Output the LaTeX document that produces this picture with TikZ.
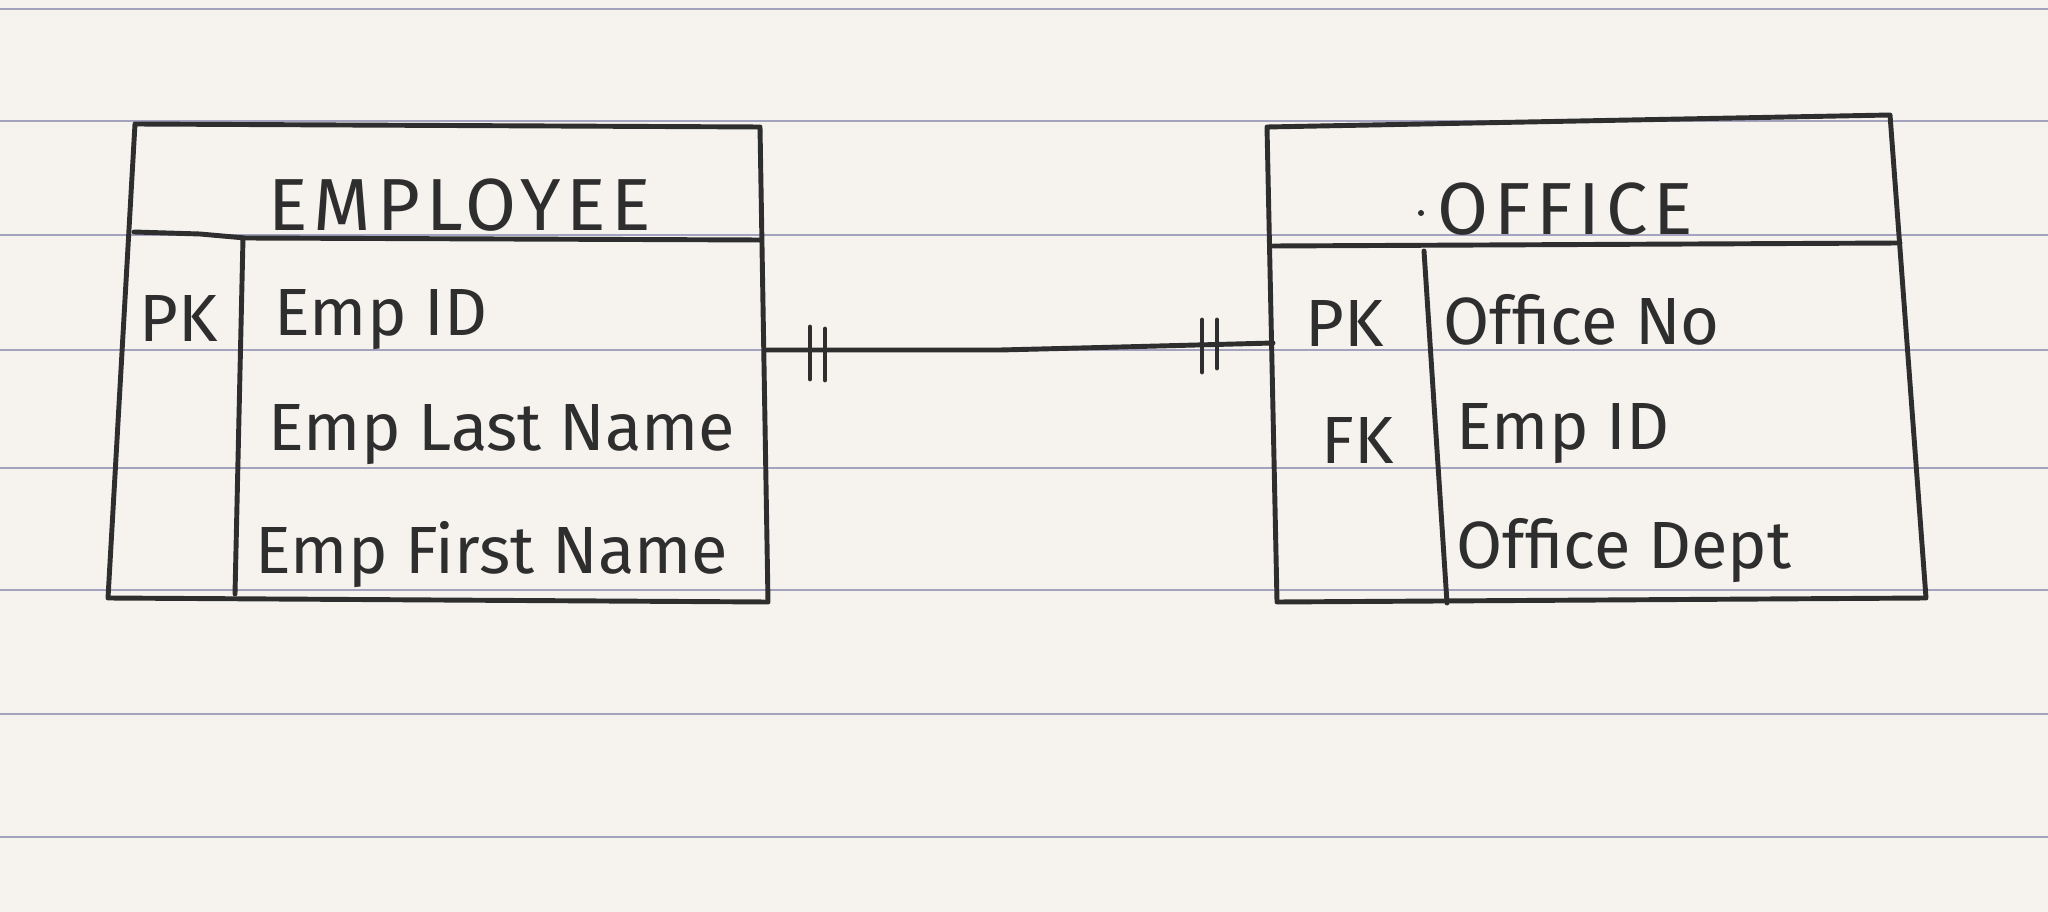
\documentclass[tikz,border=0pt]{standalone}
\usepackage{fontspec}
\newfontfamily\hand{Fira Sans}
\newfontfamily\handcaps[LetterSpace=8]{Fira Sans}
\definecolor{paper}{HTML}{F6F3EF}
\definecolor{rule}{HTML}{A3A3C0}
\definecolor{ink}{HTML}{2E2E2E}
\begin{document}
\begin{tikzpicture}[x=0.1mm,y=-0.1mm,
  pen/.style={draw=ink,line width=1.4pt,line cap=round,line join=round},
  ruled/.style={draw=rule,line width=0.7pt},
  title/.style={font=\handcaps\fontsize{21}{24}\selectfont,text=ink,inner sep=0pt},
  attr/.style={font=\hand\fontsize{19}{22}\selectfont,text=ink,anchor=west,inner sep=0pt},
  key/.style={font=\hand\fontsize{19}{22}\selectfont,text=ink,inner sep=0pt}]
\useasboundingbox (0,0) rectangle (2048,912);
\fill[paper] (0,0) rectangle (2048,912);
% ruled paper lines
\foreach \y in {9,121,235,350,468,590,714,837}
  \draw[ruled] (0,\y) -- (2048,\y);

% EMPLOYEE box
\coordinate (eTL) at (135,124);
\coordinate (eTR) at (760,127);
\coordinate (eBR) at (768,602);
\coordinate (eBL) at (108,598);
\draw[pen] (eTL) -- (eTR) -- (eBR) -- (eBL) -- cycle;
\draw[pen] (134,232) -- (200,234) -- (245,238) -- (761,240);
\draw[pen] (243,238) -- (235,594);
\node[title] (ename) at (460,205) {EMPLOYEE};
\node[key] (epk) at (179,318) {PK};
\node[attr] (e1) at (274,320) {Emp ID};
\node[attr] (e2) at (268,435) {Emp Last Name};
\node[attr] (e3) at (255,555) {Emp First Name};

% OFFICE box
\coordinate (oTL) at (1267,127);
\coordinate (oTR) at (1890,115);
\coordinate (oBR) at (1926,598);
\coordinate (oBL) at (1277,602);
\draw[pen] (oTL) -- (oTR) -- (oBR) -- (oBL) -- cycle;
\draw[pen] (1273,246) -- (1900,243);
\draw[pen] (1424,251) -- (1447,603);
\node[title] (oname) at (1565,209) {OFFICE};
\fill[ink] (1421,213) circle (3);
\node[key] (opk) at (1345,323) {PK};
\node[key] (ofk) at (1358,440) {FK};
\node[attr] (o1) at (1443,320) {Office No};
\node[attr] (o2) at (1456,434) {Emp ID};
\node[attr] (o3) at (1456,551) {Office Dept};

% relationship: one and only one on both ends
\coordinate (cL) at (767,350);
\coordinate (cR) at (1273,343);
\draw[pen] (cL) -- (1000,350) -- (1120,347) -- (cR);
\draw[pen] (810,327) -- (810,379);
\draw[pen] (825,329) -- (825,380);
\draw[pen] (1202,320) -- (1202,372);
\draw[pen] (1217,320) -- (1217,368);
\end{tikzpicture}
\end{document}
